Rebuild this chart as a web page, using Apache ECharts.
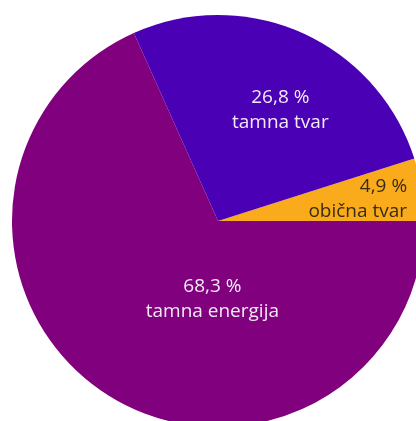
<!DOCTYPE html>
<html>
<head>
<meta charset="utf-8">
<script src="https://cdn.jsdelivr.net/npm/echarts@6/dist/echarts.min.js"></script>
<style>
  html, body { margin: 0; padding: 0; background: #fff; }
  #chart { width: 416px; height: 421px; }
</style>
</head>
<body>
<div id="chart"></div>
<script>
// udjeli u svemiru (%)
const names = ['obična tvar', 'tamna tvar', 'tamna energija'];
const values = [4.9, 26.8, 68.3];
const percentLabels = ['4,9 %', '26,8 %', '68,3 %'];
const colors = ['#f9ab1b', '#4a00b4', '#80007d'];
const textColors = ['#3a2c14', '#f3eaf6', '#f3eaf6'];

// pomaci oznaka od zadanog polozaja (sredina isjecka)
const labelOffsets = [[35, -6], [19, -14], [52, -11]];
const labelAligns = ['right', 'center', 'center'];

const myChart = echarts.init(document.getElementById('chart'));

const pieData = names.map((n, i) => ({
  name: n,
  value: values[i],
  itemStyle: { color: colors[i] },
  label: {
    color: textColors[i],
    offset: labelOffsets[i],
    formatter: '{t|' + percentLabels[i] + '}\n{t|' + n + '}',
    rich: {
      t: {
        color: textColors[i],
        align: labelAligns[i],
        fontFamily: 'Open Sans',
        fontSize: 19,
        lineHeight: 25
      }
    }
  }
}));

myChart.setOption({
  animation: false,
  series: [
    {
      type: 'pie',
      center: [218, 221],
      radius: 206,
      startAngle: 0,
      clockwise: false,
      avoidLabelOverlap: false,
      silent: true,
      itemStyle: { borderWidth: 0 },
      label: {
        show: true,
        position: 'inside',
        fontFamily: 'Open Sans',
        fontSize: 19,
        lineHeight: 25
      },
      labelLine: { show: false },
      data: pieData
    }
  ]
});
</script>
</body>
</html>
